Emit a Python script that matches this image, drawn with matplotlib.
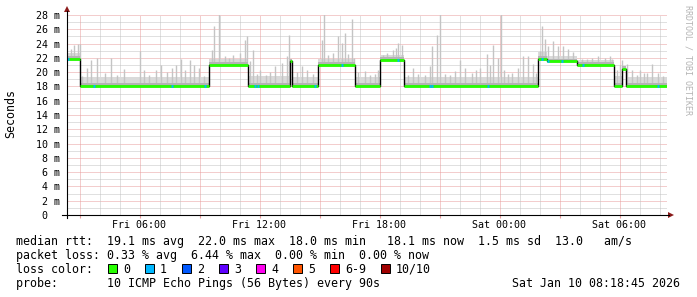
import matplotlib
matplotlib.use('Agg')
import matplotlib.pyplot as plt
import matplotlib.transforms as mtransforms
from matplotlib.patches import Polygon, Rectangle
from matplotlib.lines import Line2D
import numpy as np

W, H = 697, 297
MONO = 'DejaVu Sans Mono'
plt.rcParams['font.family'] = [MONO, 'DejaVu Sans']

# time axis: hours since Fri 00:00
t_start, t_end = 2.375, 32.375
tick_hours = [6, 12, 18, 24, 30]
tick_labels = ['Fri 06:00', 'Fri 12:00', 'Fri 18:00', 'Sat 00:00', 'Sat 06:00']

# median rtt in ms, as steps (segment start hour, level)
med_start = [2.375, 3.025, 9.475, 11.425, 13.525, 13.625, 14.925, 16.775,
             18.025, 19.225, 25.925, 26.375, 27.875, 29.725, 30.125, 30.325]
med_level = [21.9, 18.1, 21.0, 18.1, 21.5, 18.1, 21.0, 18.1,
             21.7, 18.1, 21.9, 21.5, 21.0, 18.1, 20.4, 18.1]
# upper edge of the dense smoke in each segment
smoke_top = [22.7, 19.3, 21.8, 19.4, 21.8, 19.3, 21.8, 19.3,
             22.4, 19.3, 22.8, 22.3, 21.7, 19.5, 20.8, 19.3]

# single outlier pings (hour, max rtt ms)
spike_t = [2.575, 2.725, 2.925, 3.0,
           3.125, 3.375, 3.575, 3.875, 4.275, 4.575, 4.875, 5.225, 6.025, 6.225,
           6.475, 6.825, 7.075, 7.375, 7.625, 7.825, 8.075, 8.275, 8.525, 8.725,
           8.975, 9.225,
           9.625, 9.725, 9.975, 10.275, 10.475, 10.675, 11.025, 11.275, 11.375,
           11.525, 11.675, 11.875, 12.025, 12.325, 12.525, 12.775, 13.125, 13.375,
           13.475,
           13.875, 14.125, 14.375, 14.675,
           15.125, 15.225, 15.425, 15.675, 15.925, 16.125, 16.275, 16.425, 16.625,
           16.725,
           16.925, 17.275, 17.525, 17.775, 17.925,
           18.175, 18.375, 18.675, 18.825, 18.925, 19.125,
           19.425, 19.675, 19.925, 20.275, 20.525, 20.625, 20.875, 21.025, 21.275,
           21.525, 21.775, 22.025, 22.275, 22.625, 22.825, 23.025, 23.375, 23.525,
           23.675, 23.925, 24.075, 24.225, 24.425, 24.625, 24.925, 25.175, 25.425,
           25.675, 25.825,
           26.025, 26.125, 26.275, 26.425, 26.675, 26.925, 27.175, 27.425, 27.675,
           28.125, 28.375, 28.625, 28.925, 29.275, 29.525, 29.625,
           29.875, 30.025, 30.125, 30.375, 30.625, 30.875, 31.025, 31.225, 31.375,
           31.625, 31.925, 32.175]
spike_top = [23.2, 23.8, 24.0, 24.0,
             19.4, 20.6, 21.7, 22.0, 19.9, 22.0, 19.6, 20.5, 22.9, 20.3,
             19.6, 20.3, 21.0, 20.0, 20.6, 21.0, 21.8, 20.3, 21.7, 21.0,
             20.6, 19.4,
             23.1, 26.4, 28.5, 22.2, 22.0, 22.4, 22.7, 24.5, 25.0,
             21.5, 23.1, 19.8, 20.3, 19.6, 20.0, 20.8, 21.3, 22.2,
             25.2,
             20.0, 20.8, 20.3, 19.8,
             24.5, 28.5, 22.4, 22.7, 25.0, 24.1, 25.5, 22.6, 27.5,
             22.0,
             20.0, 20.1, 19.6, 19.7, 20.3,
             22.4, 22.7, 23.1, 23.4, 24.1, 23.8,
             19.6, 20.6, 19.8, 19.6, 20.8, 23.6, 25.2, 28.5, 19.8,
             19.6, 20.2, 21.7, 20.6, 19.9, 20.3, 20.6, 22.6, 21.0,
             23.8, 22.0, 28.5, 20.3, 19.7, 19.9, 20.6, 22.2, 22.2,
             21.1, 19.9,
             23.0, 26.4, 24.7, 23.6, 24.3, 23.6, 23.7, 23.2, 22.8,
             21.8, 21.9, 22.0, 22.3, 22.0, 22.2, 21.9,
             20.3, 21.0, 21.7, 21.1, 20.3, 19.6, 20.3, 19.9, 19.9,
             21.1, 19.9, 19.4]

# intervals where 1 of 10 pings was lost
loss1_t = [2.425, 3.725, 7.625, 9.275, 11.775, 11.925, 14.775, 16.125, 18.925,
           20.525, 20.625, 23.425, 26.125, 26.425, 27.125, 28.175, 31.925]

loss_labels = ['0', '1', '2', '3', '4', '5', '6-9', '10/10']
loss_colors = ['#26ff00', '#00b8ff', '#0059ff', '#5e00ff', '#ff00f0',
               '#ff5500', '#ff0000', '#a00000']

rtt_line = 'median rtt:  19.1 ms avg  22.0 ms max  18.0 ms min   18.1 ms now  1.5 ms sd  13.0   am/s'
loss_line = 'packet loss: 0.33 % avg  6.44 % max  0.00 % min  0.00 % now'
probe_line = 'probe:       10 ICMP Echo Pings (56 Bytes) every 90s'
stamp = 'Sat Jan 10 08:18:45 2026'


def fx(x):
    return x / W


def fy(y):
    return 1 - y / H


fig = plt.figure(figsize=(W / 100, H / 100), dpi=100, facecolor='white')
ax = fig.add_axes([fx(67), fy(215), 600 / W, 200 / H])
ax.set_xlim(t_start, t_end)
ax.set_ylim(0, 28)
ax.axis('off')

dots = (0, (1, 1))
minor_c, major_c = '#c2c2c2', '#e89c9c'

# grid
for v in range(1, 29):
    ax.axhline(v, color=major_c if v % 2 == 0 else minor_c, lw=0.72, ls=dots, zorder=0)
for h in range(3, 33):
    ax.axvline(h, color=major_c if h % 3 == 0 else minor_c, lw=0.72, ls=dots, zorder=0)

# smoke
edges = med_start + [t_end]
for i in range(len(med_level)):
    ax.fill_between([edges[i], edges[i + 1]], med_level[i] - 0.1, smoke_top[i],
                    color='#dadada', lw=0, zorder=2)
    ax.fill_between([edges[i], edges[i + 1]], med_level[i] - 0.05, med_level[i] + 0.4,
                    color='#b4b4b4', lw=0, zorder=3)

def level_at(t):
    idx = np.searchsorted(edges, t, side='right') - 1
    return np.array(med_level)[np.clip(idx, 0, len(med_level) - 1)]

ax.vlines(spike_t, level_at(spike_t), spike_top, colors='#c4c4c4', lw=1.0, zorder=2.5)

# median line, coloured by loss
ax.step(edges, med_level + [med_level[-1]], where='post', color='black', lw=1.0, zorder=4)
ax.hlines(med_level, edges[:-1], edges[1:], colors=loss_colors[0], lw=2.0, zorder=5)
lt = np.array(loss1_t)
ax.hlines(level_at(lt), lt - 0.05, lt + 0.05, colors=loss_colors[1], lw=2.0, zorder=6)

# axes with arrows
ax_c = 'black'
arrow_c = '#8b1a1a'
fig.add_artist(Line2D([fx(67), fx(67)], [fy(218), fy(11)], color=ax_c, lw=0.8))
fig.add_artist(Line2D([fx(62), fx(669)], [fy(215), fy(215)], color=ax_c, lw=0.8))
fig.add_artist(Polygon([[fx(64), fy(12)], [fx(70), fy(12)], [fx(67), fy(6)]],
                       closed=True, color=arrow_c, lw=0))
fig.add_artist(Polygon([[fx(668), fy(212)], [fx(668), fy(218)], [fx(674), fy(215)]],
                       closed=True, color=arrow_c, lw=0))

xt = ax.get_xaxis_transform()
ax.vlines(range(3, 33, 3), -2.5 / 200, 0, colors=major_c, lw=0.8,
          transform=xt, clip_on=False)

# tick labels
xlab_t = mtransforms.blended_transform_factory(ax.transData, fig.transFigure)
for h, lab in zip(tick_hours, tick_labels):
    ax.text(h, fy(228), lab, transform=xlab_t, ha='center', va='baseline',
            fontsize=7.2, color='black')
ylab_t = mtransforms.blended_transform_factory(fig.transFigure, ax.transData)
for v in range(0, 29, 2):
    lab = f'{v} m' if v else '0  '
    ax.text(fx(60), v, lab, transform=ylab_t, ha='right', va='center_baseline',
            fontsize=7.2, color='black')

fig.text(fx(11), fy(114), 'Seconds', rotation=90, ha='center', va='center',
         fontsize=8.4, color='black')
fig.text(fx(688), fy(5), 'RRDTOOL / TOBI OETIKER', rotation=270, ha='center',
         va='top', fontsize=6, color='#b4b4b4')

# legend
fs = 8.4
fig.text(fx(16), fy(245), rtt_line, ha='left', va='baseline', fontsize=fs)
fig.text(fx(16), fy(259), loss_line, ha='left', va='baseline', fontsize=fs)
fig.text(fx(16), fy(273), 'loss color:', ha='left', va='baseline', fontsize=fs)
for i, (lab, col) in enumerate(zip(loss_labels, loss_colors)):
    sx = 108 + 37 * i + (14 if i == 7 else 0)
    fig.add_artist(Rectangle((fx(sx), fy(273)), 9 / W, 9 / H, facecolor=col,
                             edgecolor='black', lw=0.7))
    fig.text(fx(sx + 15), fy(273), lab, ha='left', va='baseline', fontsize=fs)
fig.text(fx(16), fy(287), probe_line, ha='left', va='baseline', fontsize=fs)
fig.text(fx(680), fy(287), stamp, ha='right', va='baseline', fontsize=fs)

fig.savefig('out.png', dpi=100, facecolor='white')
